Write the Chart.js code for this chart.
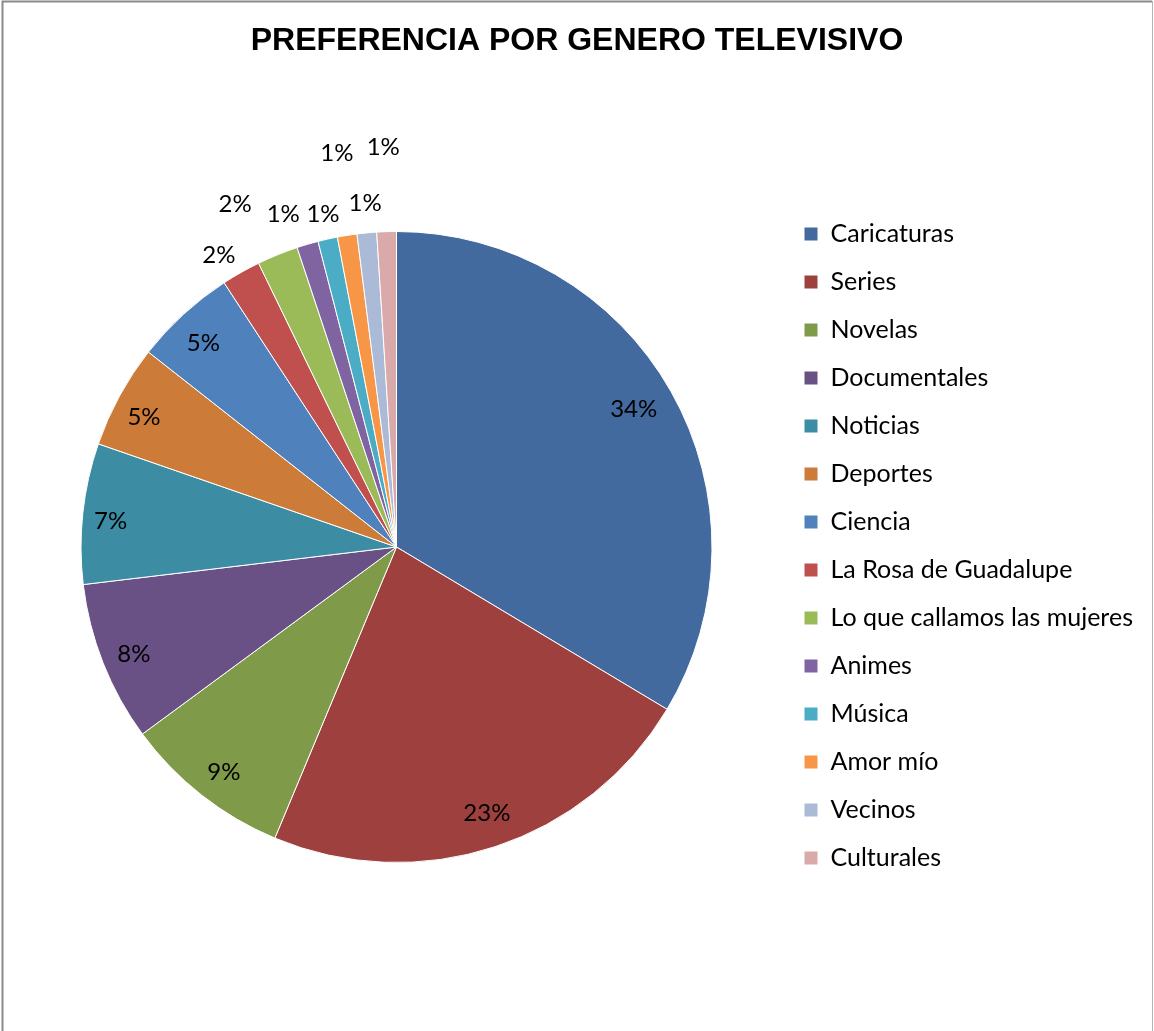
<!DOCTYPE html>
<html>
<head>
<meta charset="utf-8">
<title>Preferencia por genero televisivo</title>
<script src="https://cdn.jsdelivr.net/npm/chart.js@4.4.1/dist/chart.umd.min.js"></script>
<style>
  html, body { margin: 0; padding: 0; background: #fff; }
  canvas { display: block; }
</style>
</head>
<body>
<canvas id="chart" width="1154" height="1031"></canvas>
<script>
// categories and values (percent of answers)
const generos = [
  "Caricaturas", "Series", "Novelas", "Documentales", "Noticias", "Deportes", "Ciencia",
  "La Rosa de Guadalupe", "Lo que callamos las mujeres", "Animes", "Música", "Amor mío",
  "Vecinos", "Culturales"
]
const porcentajes = [33.6, 22.7, 8.6, 8.2, 7.2, 5.3, 5.2, 2.0, 2.1, 1.1, 1.0, 1.0, 1.0, 1.0]

const colores = [
  "#426A9E", "#9E413E", "#7F9A48", "#695185", "#3C8DA3", "#CC7B38", "#4F81BD",
  "#C0504D", "#9BBB59", "#8064A2", "#4BACC6", "#F79646", "#AABAD7", "#D9AAA9"
]

// where each data label sits: fraction of the radius and a small angle nudge (degrees)
const labelRadio = [0.87, 0.89, 0.9, 0.9, 0.91, 0.9, 0.89, 1.083, 1.2, 1.115, 1.081, 1.263, 1.095, 1.268]
const labelGiro = [-0.7, -0.6, -0.7, -0.7, -1, -1.4, -1, -1.8, -3.1, -2.4, 0.15, 0.4, 0.2, -0.1]

const labelFont = "Lato, 'Open Sans', sans-serif"

const marco = {
  id: "marco",
  beforeDraw(chart) {
    const ctx = chart.ctx
    ctx.save()
    ctx.fillStyle = "#fff"
    ctx.fillRect(0, 0, chart.width, chart.height)
    ctx.strokeStyle = "#8a8a8a"
    ctx.lineWidth = 2
    ctx.beginPath()
    ctx.moveTo(2.5, chart.height + 5)
    ctx.lineTo(2.5, 1.5)
    ctx.lineTo(chart.width - 2, 1.5)
    ctx.stroke()
    ctx.strokeStyle = "#b5b5b5"
    ctx.lineWidth = 1
    ctx.beginPath()
    ctx.moveTo(chart.width - 1.5, 1)
    ctx.lineTo(chart.width - 1.5, chart.height + 5)
    ctx.stroke()
    ctx.restore()
  }
}

const etiquetas = {
  id: "etiquetas",
  afterDatasetsDraw(chart) {
    const ctx = chart.ctx
    const meta = chart.getDatasetMeta(0)
    const valores = chart.data.datasets[0].data
    const total = valores.reduce((a, b) => a + b, 0)
    ctx.save()
    ctx.font = "24px " + labelFont
    ctx.fillStyle = "#000"
    ctx.textAlign = "center"
    ctx.textBaseline = "middle"
    meta.data.forEach((arc, i) => {
      const p = arc.getProps(["x", "y", "startAngle", "endAngle", "outerRadius"], true)
      const ang = (p.startAngle + p.endAngle) / 2 + labelGiro[i] * Math.PI / 180
      const r = p.outerRadius * labelRadio[i]
      const txt = Math.round(valores[i] / total * 100) + "%"
      ctx.fillText(txt, p.x + Math.cos(ang) * r, p.y + Math.sin(ang) * r)
    })
    ctx.restore()
  }
}

new Chart(document.getElementById("chart"), {
  type: "pie",
  data: {
    labels: generos,
    datasets: [{
      data: porcentajes,
      backgroundColor: colores,
      borderColor: "#fff",
      borderWidth: 1
    }]
  },
  options: {
    responsive: false,
    animation: false,
    // legend is full height, so the bottom is pushed past the canvas to centre it on the pie
    layout: { padding: { left: 12, right: 12, top: 0, bottom: -61 } },
    plugins: {
      title: {
        display: true,
        text: "PREFERENCIA POR GENERO TELEVISIVO",
        color: "#000",
        font: { family: "'Liberation Sans', Arial, sans-serif", size: 32, weight: "bold" },
        padding: { top: 22, bottom: 170.6 }
      },
      subtitle: {
        display: true,
        position: "bottom",
        text: "",
        padding: { top: 0, bottom: 214.6 }
      },
      legend: {
        position: "right",
        maxWidth: 361,
        labels: {
          color: "#000",
          boxWidth: 14,
          boxHeight: 14,
          padding: 23,
          font: { family: labelFont, size: 25 }
        }
      },
      tooltip: { enabled: false }
    }
  },
  plugins: [marco, etiquetas]
})
</script>
</body>
</html>
